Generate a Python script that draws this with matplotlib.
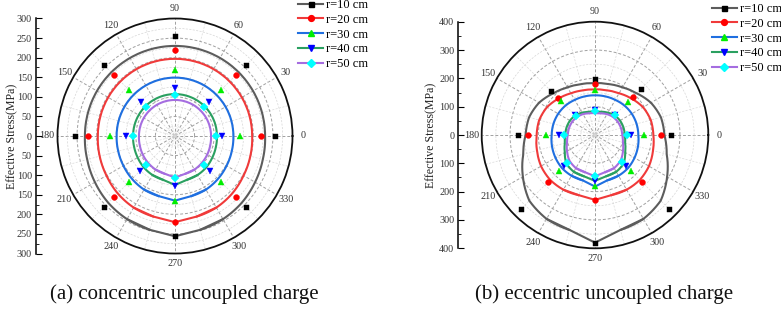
import numpy as np
import matplotlib
matplotlib.use("Agg")
import matplotlib.pyplot as plt
from matplotlib.lines import Line2D

plt.rcParams['font.family'] = ['Liberation Serif', 'DejaVu Serif']

# ---------------- data ----------------
series_labels = ['r=10 cm', 'r=20 cm', 'r=30 cm', 'r=40 cm', 'r=50 cm']
line_colors = ['#5c5c5c', '#f03a3a', '#1f6fe0', '#2aa060', '#a56de0']
marker_colors = ['#000000', '#ff0000', '#00ee00', '#0000ff', '#00ffff']
marker_shapes = ['s', 'o', '^', 'v', 'D']
marker_sizes = [3.6, 4.2, 4.4, 4.4, 3.6]

angle_ticks = [0, 30, 60, 90, 120, 150, 180, 210, 240, 270, 300, 330]

# measured points (degrees)
marker_deg = [0, 45, 90, 135, 180, 225, 270, 315]
# (a) concentric
a_r10 = [256, 255, 255, 255, 256, 257, 256, 256]
a_r20 = [220, 219, 220, 219, 222, 220, 220, 219]
a_r30 = [165, 165, 169, 167, 166, 165, 166, 165]
a_r40 = [120, 122, 122, 122, 126, 126, 127, 126]
a_r50 = [104, 105, 105, 105, 106, 106, 106, 106]
# (b) eccentric
b_r10 = [268, 230, 198, 218, 271, 368, 380, 367]
b_r20 = [233, 191, 179, 187, 235, 235, 229, 235]
b_r30 = [174, 163, 159, 170, 174, 180, 180, 178]
b_r40 = [126, 102, 88, 101, 127, 156, 162, 155]
b_r50 = [112, 100, 85, 97, 111, 139, 145, 137]

# fitted curves (degrees 0..360 step 15)
curve_deg = [0, 15, 30, 45, 60, 75, 90, 105, 120, 135, 150, 165, 180,
             195, 210, 225, 240, 255, 270, 285, 300, 315, 330, 345, 360]
a_fit10 = [230]*13 + [232, 236, 241, 245, 248, 256, 248, 245, 241, 236, 232, 230]
a_fit20 = [197]*13 + [199, 202, 207, 211, 213, 220, 213, 211, 207, 202, 199, 197]
a_fit30 = [149]*13 + [150, 152, 155, 158, 159, 165, 159, 158, 155, 152, 150, 149]
a_fit40 = [107]*13 + [108, 110, 113, 115, 116, 125, 116, 115, 113, 110, 108, 107]
a_fit50 = [92]*13 + [93, 95, 97, 99, 100, 106, 100, 99, 97, 95, 93, 92]

b_fit10 = [245, 241, 228, 208, 194, 186, 183, 186, 194, 208, 228, 241, 245,
           262, 294, 328, 342, 347, 380, 347, 342, 328, 294, 262, 245]
b_fit20 = [206, 204, 196, 182, 170, 163, 161, 163, 170, 182, 196, 204, 206,
           212, 220, 224, 223, 220, 229, 220, 223, 224, 220, 212, 206]
b_fit30 = [153, 152, 150, 147, 143, 141, 140, 141, 143, 147, 150, 152, 153,
           157, 161, 165, 166, 166, 182, 166, 166, 165, 161, 157, 153]
b_fit40 = [105, 104, 102, 98, 91, 85, 82, 85, 91, 98, 102, 104, 105,
           110, 123, 143, 150, 151, 162, 151, 150, 143, 123, 110, 105]
b_fit50 = [96, 95, 93, 90, 85, 79, 77, 79, 85, 90, 93, 95, 96,
           102, 114, 128, 135, 136, 146, 136, 135, 128, 114, 102, 96]

a_markers = [a_r10, a_r20, a_r30, a_r40, a_r50]
a_fits = [a_fit10, a_fit20, a_fit30, a_fit40, a_fit50]
b_markers = [b_r10, b_r20, b_r30, b_r40, b_r50]
b_fits = [b_fit10, b_fit20, b_fit30, b_fit40, b_fit50]

captions = ['(a) concentric uncoupled charge', '(b) eccentric uncoupled charge']

# ---------------- figure ----------------
W, H = 781, 312
fig = plt.figure(figsize=(W/100, H/100), dpi=100)


def fx(px):
    return px / W


def fy(py):
    return 1 - py / H


def make_panel(cx, cy, rad, rmax, rmajor, rminor, markers, fits,
               axis_x, label_x, leg_x, leg_top, cap_x, caption):
    ax = fig.add_axes([fx(cx - rad), fy(cy + rad), 2*rad/W, 2*rad/H],
                      projection='polar')
    ax.set_ylim(0, rmax)
    ax.set_yticks(np.arange(rmajor, rmax, rmajor))
    ax.set_yticks(np.arange(rminor, rmax, rmajor), minor=True)
    ax.set_yticklabels([])
    ax.set_xticks(np.deg2rad(angle_ticks))
    ax.set_xticklabels([str(a) for a in angle_ticks], fontsize=7.3)
    ax.set_xticks(np.deg2rad(np.arange(15, 360, 30)), minor=True)
    ax.xaxis.grid(True, which='major', ls=(0, (3, 2)), color='#a0a0a0', lw=0.7)
    ax.xaxis.grid(True, which='minor', ls=(0, (3, 2)), color='#dadada', lw=0.5)
    ax.yaxis.grid(True, which='major', ls=(0, (3, 2)), color='#a0a0a0', lw=0.7)
    ax.yaxis.grid(True, which='minor', ls=(0, (3, 2)), color='#d6d6d6', lw=0.5)
    ax.tick_params(axis='x', which='major', direction='in', length=4,
                   width=0.8, pad=0.5, colors='#000000', labelcolor='#333333')
    ax.tick_params(axis='x', which='minor', direction='in', length=2.5,
                   width=0.6)
    ax.spines['polar'].set_linewidth(1.3)
    ax.spines['polar'].set_color('#111111')
    ax.set_axisbelow(True)

    deg = np.array(curve_deg)
    # smooth part runs 285 -> 360/0 -> 255; pointed tip 240..300 straight
    smooth_idx = list(range(19, 25)) + list(range(1, 18))
    tip_idx = list(range(16, 21))
    handles = []
    for i in range(5):
        r = np.array(fits[i])
        ln, = ax.plot(np.deg2rad(np.where(deg[smooth_idx] >= 285,
                                          deg[smooth_idx] - 360,
                                          deg[smooth_idx])),
                      r[smooth_idx], color=line_colors[i], lw=1.5, zorder=3,
                      solid_capstyle='round')
        ln.get_path()._interpolation_steps = 40  # smooth polar arcs
        ax.plot(np.deg2rad(deg[tip_idx]), r[tip_idx], color=line_colors[i],
                lw=1.5, zorder=3, solid_capstyle='round',
                solid_joinstyle='miter')
        ax.plot(np.deg2rad(marker_deg), markers[i], ls='none',
                marker=marker_shapes[i], ms=marker_sizes[i],
                mfc=marker_colors[i], mec=marker_colors[i], mew=0.3,
                zorder=4, clip_on=False)
        handles.append(Line2D([], [], color=line_colors[i], lw=1.5,
                              marker=marker_shapes[i], ms=marker_sizes[i],
                              mfc=marker_colors[i], mec=marker_colors[i]))

    # Cartesian stress scale on the left
    axl = fig.add_axes([fx(axis_x), fy(cy + rad), 0.0005, 2*rad/H])
    axl.patch.set_visible(False)
    for s in ['top', 'right', 'bottom']:
        axl.spines[s].set_visible(False)
    axl.spines['left'].set_linewidth(1.1)
    axl.set_xticks([])
    axl.set_ylim(-rmax, rmax)
    yt = np.arange(-rmax, rmax + 1, rmajor)
    axl.set_yticks(yt)
    axl.set_yticklabels([str(abs(int(v))) for v in yt], fontsize=7.3,
                        color='#333333')
    axl.set_yticks(np.arange(-rmax + rminor, rmax, rmajor), minor=True)
    axl.tick_params(axis='y', which='major', direction='in', length=4,
                    width=0.8, pad=3)
    axl.tick_params(axis='y', which='minor', direction='in', length=2.5,
                    width=0.6)
    fig.text(fx(label_x), fy(cy), 'Effective Stress(MPa)', rotation=90,
             ha='center', va='center', fontsize=8.6, color='#222222')

    fig.legend(handles, series_labels, loc='upper left',
               bbox_to_anchor=(fx(leg_x), fy(leg_top)), frameon=False,
               fontsize=9, handlelength=2.0, handletextpad=0.25,
               labelspacing=0.22, borderpad=0, borderaxespad=0)

    fig.text(fx(cap_x), fy(294), caption, ha='center', va='center',
             fontsize=15, color='#111111')


make_panel(175, 136, 117.5, 300, 50, 25, a_markers, a_fits,
           axis_x=36, label_x=12, leg_x=298, leg_top=-1,
           cap_x=184, caption=captions[0])
make_panel(595, 135, 113.3, 400, 100, 50, b_markers, b_fits,
           axis_x=458.3, label_x=431.7, leg_x=711.5, leg_top=3,
           cap_x=604.5, caption=captions[1])

fig.savefig('out.png', dpi=100)
